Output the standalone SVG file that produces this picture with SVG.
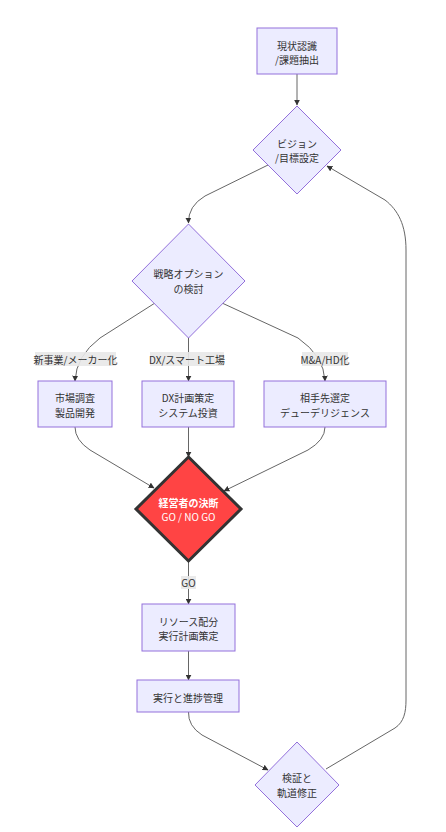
<svg xmlns="http://www.w3.org/2000/svg" width="446" height="832" viewBox="0 0 446 832">
<style>
.n{fill:#ECECFF;stroke:#9370DB;stroke-width:1}
.t{font-family:"Noto Sans CJK JP","Liberation Sans",sans-serif;font-size:10px;fill:#333;text-anchor:middle;dominant-baseline:central}
.w{fill:#fff}
.b{font-weight:bold}
.e{fill:none;stroke:#666;stroke-width:1}
.lb{fill:#e8e8e8;opacity:0.9}
</style>
<defs>
<marker id="a" viewBox="0 0 10 10" refX="9" refY="5" markerWidth="6" markerHeight="6" orient="auto-start-reverse" markerUnits="userSpaceOnUse">
<path d="M0,0 L10,5 L0,10 z" fill="#333"/>
</marker>
</defs>
<rect width="446" height="832" fill="#fff"/>
<g id="edges">
<path class="e" d="M297,74 L297,105" marker-end="url(#a)"/>
<path class="e" d="M268,165 L205,196 Q188,206 188.5,223" marker-end="url(#a)"/>
<path class="e" d="M155,303 L100,338 Q76,356 75,381" marker-end="url(#a)"/>
<path class="e" d="M188.5,338 L188.5,381" marker-end="url(#a)"/>
<path class="e" d="M222,303 L298,338 Q324,356 325,381" marker-end="url(#a)"/>
<path class="e" d="M75,427 Q75,440 90,450 L154,488" marker-end="url(#a)"/>
<path class="e" d="M188.5,427 L188.5,457" marker-end="url(#a)"/>
<path class="e" d="M325,427 Q325,440 308,450 L224,491" marker-end="url(#a)"/>
<path class="e" d="M188.5,561 L188.5,604" marker-end="url(#a)"/>
<path class="e" d="M188.5,651 L188.5,680" marker-end="url(#a)"/>
<path class="e" d="M188.5,712 Q188,726 202,735 L268,770" marker-end="url(#a)"/>
<path class="e" d="M326,769 L395,728 C404,722 406,712 406,700 L406,250 C406,225 398,210 385,200 L327,166" marker-end="url(#a)"/>
<rect class="lb" x="35" y="352" width="81" height="14"/>
<text class="t" x="75.5" y="359">新事業/メーカー化</text>
<rect class="lb" x="150" y="352" width="74" height="14"/>
<text class="t" x="187" y="359">DX/スマート工場</text>
<rect class="lb" x="302" y="352" width="46" height="14"/>
<text class="t" x="325" y="359">M&amp;A/HD化</text>
<rect class="lb" x="181" y="576" width="15" height="13"/>
<text class="t" x="188.5" y="582.5">GO</text>
</g>
<g id="n1"><rect class="n" x="257" y="28" width="80" height="46"/><text class="t" x="297" y="45">現状認識</text><text class="t" x="297" y="59">/課題抽出</text></g>
<g id="n2"><polygon class="n" points="297,106 341,150 297,194 253,150"/><text class="t" x="297" y="143">ビジョン</text><text class="t" x="297" y="157">/目標設定</text></g>
<g id="n3"><polygon class="n" points="188.5,224 245,281 188.5,338 132,281"/><text class="t" x="188.5" y="273">戦略オプション</text><text class="t" x="188.5" y="288">の検討</text></g>
<g id="n4"><rect class="n" x="38" y="381" width="74" height="46"/><text class="t" x="75" y="397">市場調査</text><text class="t" x="75" y="412">製品開発</text></g>
<g id="n5"><rect class="n" x="142" y="381" width="92" height="46"/><text class="t" x="188" y="397">DX計画策定</text><text class="t" x="188" y="412">システム投資</text></g>
<g id="n6"><rect class="n" x="264" y="381" width="122" height="46"/><text class="t" x="325" y="397">相手先選定</text><text class="t" x="325" y="412">デューデリジェンス</text></g>
<g id="n7"><polygon points="188.5,457 241,509 188.5,561 136,509" fill="#ff4444" stroke="#333" stroke-width="3"/><text class="t w b" x="188.5" y="502">経営者の決断</text><text class="t w" x="188.5" y="516">GO / NO GO</text></g>
<g id="n8"><rect class="n" x="142" y="604" width="93" height="47"/><text class="t" x="188.5" y="621">リソース配分</text><text class="t" x="188.5" y="635">実行計画策定</text></g>
<g id="n9"><rect class="n" x="137" y="680" width="102" height="32"/><text class="t" x="188" y="697">実行と進捗管理</text></g>
<g id="n10"><polygon class="n" points="297,742 339,785 297,827 255,785"/><text class="t" x="297" y="777">検証と</text><text class="t" x="297" y="792">軌道修正</text></g>
</svg>
